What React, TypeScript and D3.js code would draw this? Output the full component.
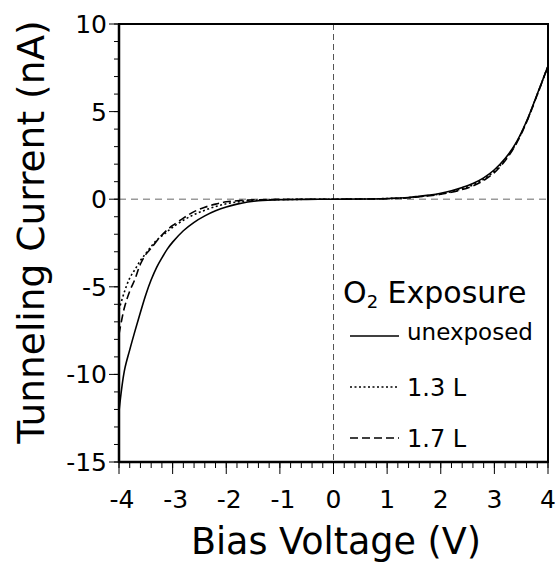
import React from 'react';
import * as d3 from 'd3';

// bias voltage samples (V)
const voltage = [-4, -3.9, -3.8, -3.7, -3.6, -3.5, -3.4, -3.3, -3.2, -3.1, -3.0, -2.8, -2.6, -2.4, -2.2, -2.0, -1.8, -1.6, -1.4, -1.0, -0.5, 0, 0.5, 1.0, 1.4, 1.6, 1.8, 2.0, 2.2, 2.4, 2.6, 2.8, 3.0, 3.2, 3.4, 3.6, 3.8, 4.0];

// tunneling current (nA) for each exposure
const unexposed = [-12.1, -9.8, -8.6, -7.5, -6.45, -5.45, -4.6, -3.9, -3.35, -2.85, -2.45, -1.8, -1.32, -0.95, -0.66, -0.44, -0.28, -0.16, -0.09, -0.03, -0.01, 0, 0.01, 0.04, 0.1, 0.17, 0.24, 0.34, 0.48, 0.67, 0.9, 1.22, 1.68, 2.32, 3.2, 4.45, 6.0, 7.6];
const exposed13 = [-6.3, -5.3, -4.5, -4.0, -3.5, -3.1, -2.7, -2.35, -2.1, -1.85, -1.6, -1.2, -0.88, -0.63, -0.42, -0.26, -0.16, -0.09, -0.05, -0.02, -0.005, 0, 0.01, 0.04, 0.09, 0.15, 0.22, 0.3, 0.43, 0.6, 0.82, 1.14, 1.6, 2.26, 3.15, 4.42, 5.98, 7.6];
const exposed17 = [-7.7, -6.2, -5.25, -4.55, -3.7, -3.15, -2.8, -2.4, -2.05, -1.75, -1.5, -1.08, -0.71, -0.46, -0.28, -0.15, -0.09, -0.05, -0.03, -0.01, 0, 0, 0.01, 0.03, 0.08, 0.14, 0.2, 0.28, 0.4, 0.55, 0.76, 1.07, 1.52, 2.2, 3.12, 4.4, 5.96, 7.6];

const xTicks = [-4, -3, -2, -1, 0, 1, 2, 3, 4];
const yTicks = [-15, -10, -5, 0, 5, 10];

const seriesNames = ['unexposed', '1.3 L', '1.7 L'];
const seriesValues = [unexposed, exposed13, exposed17];
const seriesDash = ['none', '2,2.5', '8,4'];

const W = 556;
const H = 565;
const m = { left: 119, right: 548, top: 24, bottom: 462 };
const font = '"DejaVu Sans", Verdana, sans-serif';

export default function App() {
  const x = d3.scaleLinear().domain([-4, 4]).range([m.left, m.right]);
  const y = d3.scaleLinear().domain([-15, 10]).range([m.bottom, m.top]);

  const line = d3
    .line<number>()
    .x((_, i) => x(voltage[i]))
    .y(d => y(d))
    .curve(d3.curveCatmullRom);

  const xMinor = d3.range(-4, 4.001, 0.2);
  const yMinor = d3.range(-15, 10.001, 1);

  return (
    <svg width={W} height={H} style={{ position: 'absolute', left: 0, top: 0, background: '#fff' }}>
      <defs>
        <clipPath id="plot">
          <rect x={m.left} y={m.top} width={m.right - m.left} height={m.bottom - m.top} />
        </clipPath>
      </defs>

      {/* zero lines */}
      <line x1={m.left} x2={m.right} y1={y(0)} y2={y(0)} stroke="#9a9a9a" strokeWidth={1.5} strokeDasharray="7,5" />
      <line x1={x(0)} x2={x(0)} y1={m.top} y2={m.bottom + 12} stroke="#555" strokeWidth={1} strokeDasharray="6,4" />

      {/* curves */}
      <g clipPath="url(#plot)">
        {seriesValues.map((vals, i) => (
          <path key={seriesNames[i]} d={line(vals) as string} fill="none" stroke="#000" strokeWidth={1.6} strokeDasharray={seriesDash[i]} />
        ))}
      </g>

      {/* frame */}
      <rect x={m.left} y={m.top} width={m.right - m.left} height={m.bottom - m.top} fill="none" stroke="#000" strokeWidth={2} />
      <line x1={m.left} x2={m.left} y1={m.top} y2={m.bottom + 1} stroke="#000" strokeWidth={2.5} />
      <line x1={m.left} x2={m.right} y1={m.bottom} y2={m.bottom} stroke="#000" strokeWidth={2.5} />

      {/* x ticks */}
      {xMinor.map(v => (
        <line key={'xm' + v} x1={x(v)} x2={x(v)} y1={m.bottom} y2={m.bottom + 6} stroke="#000" strokeWidth={1} />
      ))}
      {xTicks.map(v => (
        <g key={'x' + v}>
          <line x1={x(v)} x2={x(v)} y1={m.bottom} y2={m.bottom + 12} stroke="#000" strokeWidth={1} />
          <text x={x(v) + (v < 0 ? 3 : 0)} y={508} textAnchor="middle" fontFamily={font} fontSize={25}>
            {v < 0 ? '-' + Math.abs(v) : v}
          </text>
        </g>
      ))}

      {/* y ticks */}
      {yMinor.map(v => (
        <line key={'ym' + v} x1={m.left - 5} x2={m.left} y1={y(v)} y2={y(v)} stroke="#000" strokeWidth={1} />
      ))}
      {yTicks.map(v => (
        <g key={'y' + v}>
          <line x1={m.left - 10} x2={m.left} y1={y(v)} y2={y(v)} stroke="#000" strokeWidth={1} />
          <text x={107} y={y(v) + 9} textAnchor="end" fontFamily={font} fontSize={25}>
            {v < 0 ? '-' + Math.abs(v) : v}
          </text>
        </g>
      ))}

      {/* axis titles */}
      <text x={336} y={554} textAnchor="middle" fontFamily={font} fontSize={36.5}>
        Bias Voltage (V)
      </text>
      <text transform={`translate(44, ${(m.top + m.bottom) / 2 - 11}) rotate(-90)`} textAnchor="middle" fontFamily={font} fontSize={37.5}>
        Tunneling Current (nA)
      </text>

      {/* legend */}
      <text x={343} y={303} fontFamily={font} fontSize={30}>
        O<tspan fontSize={18} dy={5}>2</tspan>
        <tspan dy={-5}> Exposure</tspan>
      </text>
      {seriesNames.map((name, i) => (
        <g key={'lg' + name} transform={`translate(0, ${336 + i * 51})`}>
          <line x1={350} x2={399} y1={0} y2={0} stroke="#000" strokeWidth={1.5} strokeDasharray={seriesDash[i]} />
          <text x={407} y={i === 0 ? 4 : 9} fontFamily={font} fontSize={i === 0 ? 23 : 24}>
            {name}
          </text>
        </g>
      ))}
    </svg>
  );
}
